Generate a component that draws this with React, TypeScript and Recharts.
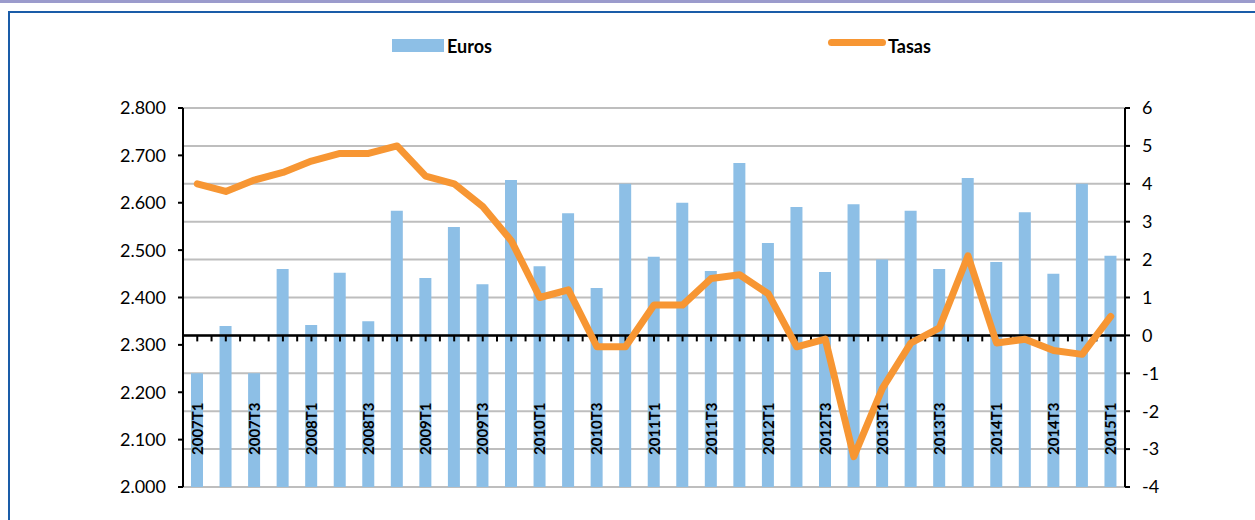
import React from 'react';
import {
  ComposedChart,
  Bar,
  Line,
  XAxis,
  YAxis,
  CartesianGrid,
  ReferenceLine,
} from 'recharts';

const quarters = [
  '2007T1', '2007T2', '2007T3', '2007T4',
  '2008T1', '2008T2', '2008T3', '2008T4',
  '2009T1', '2009T2', '2009T3', '2009T4',
  '2010T1', '2010T2', '2010T3', '2010T4',
  '2011T1', '2011T2', '2011T3', '2011T4',
  '2012T1', '2012T2', '2012T3', '2012T4',
  '2013T1', '2013T2', '2013T3', '2013T4',
  '2014T1', '2014T2', '2014T3', '2014T4',
  '2015T1',
];

const euros = [
  2240, 2340, 2240, 2460,
  2342, 2452, 2350, 2583,
  2441, 2549, 2428, 2648,
  2466, 2578, 2420, 2640,
  2486, 2600, 2456, 2684,
  2515, 2591, 2454, 2597,
  2480, 2583, 2460, 2652,
  2475, 2580, 2450, 2640,
  2488,
];

const tasas = [
  4.0, 3.8, 4.1, 4.3,
  4.6, 4.8, 4.8, 5.0,
  4.2, 4.0, 3.4, 2.5,
  1.0, 1.2, -0.3, -0.3,
  0.8, 0.8, 1.5, 1.6,
  1.1, -0.3, -0.1, -3.2,
  -1.4, -0.2, 0.2, 2.1,
  -0.2, -0.1, -0.4, -0.5,
  0.5,
];

const leftTicks = [2000, 2100, 2200, 2300, 2400, 2500, 2600, 2700, 2800];
const rightTicks = [-4, -3, -2, -1, 0, 1, 2, 3, 4, 5, 6];

const data = quarters.map((q, i) => ({ q, euros: euros[i], tasas: tasas[i] }));

const FONT = "Lato, 'Open Sans', sans-serif";
const BAR_COLOR = '#8DBFE6';
const LINE_COLOR = '#F79633';

const QuarterTick = (props: any) => {
  const { x, y, payload } = props;
  const ax = x + 5.5;
  const ay = y - 32;
  return (
    <text
      x={ax}
      y={ay}
      transform={`rotate(-90, ${ax}, ${ay})`}
      textAnchor="start"
      fontFamily={FONT}
      fontWeight={700}
      fontSize={15}
      fill="#000"
    >
      {payload.value}
    </text>
  );
};

// small tick marks hanging under the zero line, every half category
const ZeroTicks = (props: any) => {
  const { x1, y1, x2 } = props;
  const n = quarters.length * 2;
  const step = (x2 - x1) / n;
  const marks = [];
  for (let i = 1; i < n; i++) {
    const x = x1 + i * step;
    marks.push(<line key={i} x1={x} x2={x} y1={y1} y2={y1 + 6} stroke="#000" strokeWidth={2} />);
  }
  return <g>{marks}</g>;
};

const ZeroLine = (props: any) => {
  const { x1, y1, x2 } = props;
  return <line x1={x1} x2={x2} y1={y1} y2={y1} stroke="#000" strokeWidth={2.5} />;
};

const App: React.FC = () => {
  return (
    <div
      style={{
        position: 'absolute',
        left: 0,
        top: 0,
        width: 1255,
        height: 520,
        background: '#fff',
        overflow: 'hidden',
        fontFamily: FONT,
      }}
    >
      <div style={{ position: 'absolute', left: 0, top: 0, width: 1255, height: 3, background: '#9B9BCC' }} />
      <div style={{ position: 'absolute', left: 8, top: 11, width: 1247, height: 2, background: '#1A5CA8' }} />
      <div style={{ position: 'absolute', left: 8, top: 11, width: 2, height: 509, background: '#1A5CA8' }} />

      {/* legend */}
      <div style={{ position: 'absolute', left: 392, top: 39, width: 52, height: 13, background: BAR_COLOR }} />
      <div style={{ position: 'absolute', left: 447, top: 34, fontSize: 18, fontWeight: 700, lineHeight: '24px' }}>Euros</div>
      <div style={{ position: 'absolute', left: 828, top: 39, width: 58, height: 7, borderRadius: 3.5, background: LINE_COLOR }} />
      <div style={{ position: 'absolute', left: 888, top: 34, fontSize: 18, fontWeight: 700, lineHeight: '24px' }}>Tasas</div>

      <div style={{ position: 'absolute', left: 0, top: 0 }}>
        <ComposedChart width={1255} height={520} data={data} margin={{ top: 108, right: 0, bottom: 0, left: 0 }}>
          <CartesianGrid yAxisId="right" vertical={false} stroke="#BEBEBE" strokeWidth={2} />
          <XAxis
            dataKey="q"
            interval={1}
            height={33}
            axisLine={false}
            tickLine={false}
            tickSize={0}
            tickMargin={0}
            tick={<QuarterTick />}
          />
          <YAxis
            yAxisId="left"
            width={183}
            domain={[2000, 2800]}
            ticks={leftTicks}
            allowDataOverflow
            axisLine={{ stroke: '#000', strokeWidth: 2 }}
            tickLine={{ stroke: '#000', strokeWidth: 2 }}
            tickSize={5}
            tickMargin={12}
            tickFormatter={(v: number) => (v / 1000).toFixed(3)}
            tick={{ fill: '#000', fontSize: 18, fontFamily: FONT }}
          />
          <YAxis
            yAxisId="right"
            orientation="right"
            width={130}
            domain={[-4, 6]}
            ticks={rightTicks}
            allowDataOverflow
            axisLine={{ stroke: '#000', strokeWidth: 2 }}
            tickLine={{ stroke: '#000', strokeWidth: 2 }}
            tickSize={5}
            tickMargin={12}
            tick={{ fill: '#000', fontSize: 18, fontFamily: FONT, textAnchor: 'start' }}
          />
          <ReferenceLine yAxisId="right" y={0} shape={<ZeroTicks />} />
          <Bar yAxisId="left" dataKey="euros" fill={BAR_COLOR} barSize={12} isAnimationActive={false} />
          <ReferenceLine yAxisId="right" y={0} shape={<ZeroLine />} />
          <Line
            yAxisId="right"
            type="linear"
            dataKey="tasas"
            stroke={LINE_COLOR}
            strokeWidth={7}
            strokeLinejoin="round"
            strokeLinecap="round"
            dot={false}
            activeDot={false}
            isAnimationActive={false}
          />
        </ComposedChart>
      </div>
    </div>
  );
};

export default App;
